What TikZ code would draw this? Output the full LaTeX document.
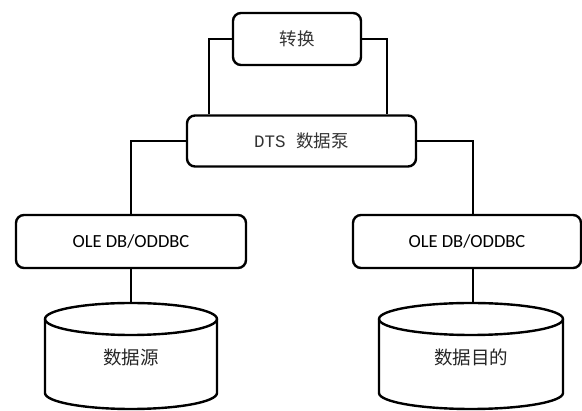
\documentclass[tikz,border=0pt]{standalone}
\usepackage{fontspec}
\newfontfamily\cjkfont{Noto Sans CJK SC}
\newfontfamily\olefont{Carlito}
\newfontfamily\monofont{Liberation Mono}
\begin{document}
\begin{tikzpicture}[x=1pt,y=-1pt,
  rbox/.style={draw=black, line width=2.4pt, rounded corners=8pt, fill=white, inner sep=0pt},
  conn/.style={draw=black, line width=1.2pt},
  cyl/.style={draw=black, line width=2.4pt, fill=white},
  lbl/.style={inner sep=0pt, font=\cjkfont\fontsize{18.5}{20}\selectfont, text=black!85}
]
\useasboundingbox (0,0) rectangle (582,411);

% boxes
\node[rbox, minimum width=128pt, minimum height=52pt, font=\cjkfont\fontsize{17.5}{20}\selectfont, text=black!80] (tr) at (297,39) {转换};
\node[rbox, minimum width=229pt, minimum height=51pt, font=\cjkfont\fontsize{17.5}{20}\selectfont, text=black!80] (dts) at (301.5,141) {{\monofont\fontsize{17.5}{20}\selectfont DTS }数据泵};
\node[rbox, minimum width=230pt, minimum height=53pt, font=\olefont\fontsize{18.5}{20}\selectfont] (oleL) at (131,241.5) {OLE DB/ODDBC};
\node[rbox, minimum width=228pt, minimum height=53pt, font=\olefont\fontsize{18.5}{20}\selectfont] (oleR) at (467,241.5) {OLE DB/ODDBC};

% cylinders
\path[cyl] (45,319) -- (45,393) arc[start angle=180, end angle=0, x radius=86, y radius=16] -- (217,319) arc[start angle=0, end angle=-180, x radius=86, y radius=16] -- cycle;
\draw[line width=2.4pt] (45,319) arc[start angle=180, end angle=0, x radius=86, y radius=16];
\path[cyl] (379,319) -- (379,393) arc[start angle=180, end angle=0, x radius=92, y radius=16] -- (563,319) arc[start angle=0, end angle=-180, x radius=92, y radius=16] -- cycle;
\draw[line width=2.4pt] (379,319) arc[start angle=180, end angle=0, x radius=92, y radius=16];
\node[lbl] (src) at (131,357) {数据源};
\node[lbl] (dst) at (471,357) {数据目的};
\coordinate (srcTop) at (131,303);
\coordinate (dstTop) at (473,303);

% connectors
\draw[conn] (tr.west) -- (209,39) -- (209,0 |- dts.north);
\draw[conn] (tr.east) -- (387,39) -- (387,0 |- dts.north);
\draw[conn] (dts.west) -- (131,141) -- (oleL.north);
\draw[conn] (dts.east) -- (473,141) -- (473,0 |- oleR.north);
\draw[conn] (oleL.south) -- (srcTop);
\draw[conn] (473,0 |- oleR.south) -- (dstTop);
\end{tikzpicture}
\end{document}
